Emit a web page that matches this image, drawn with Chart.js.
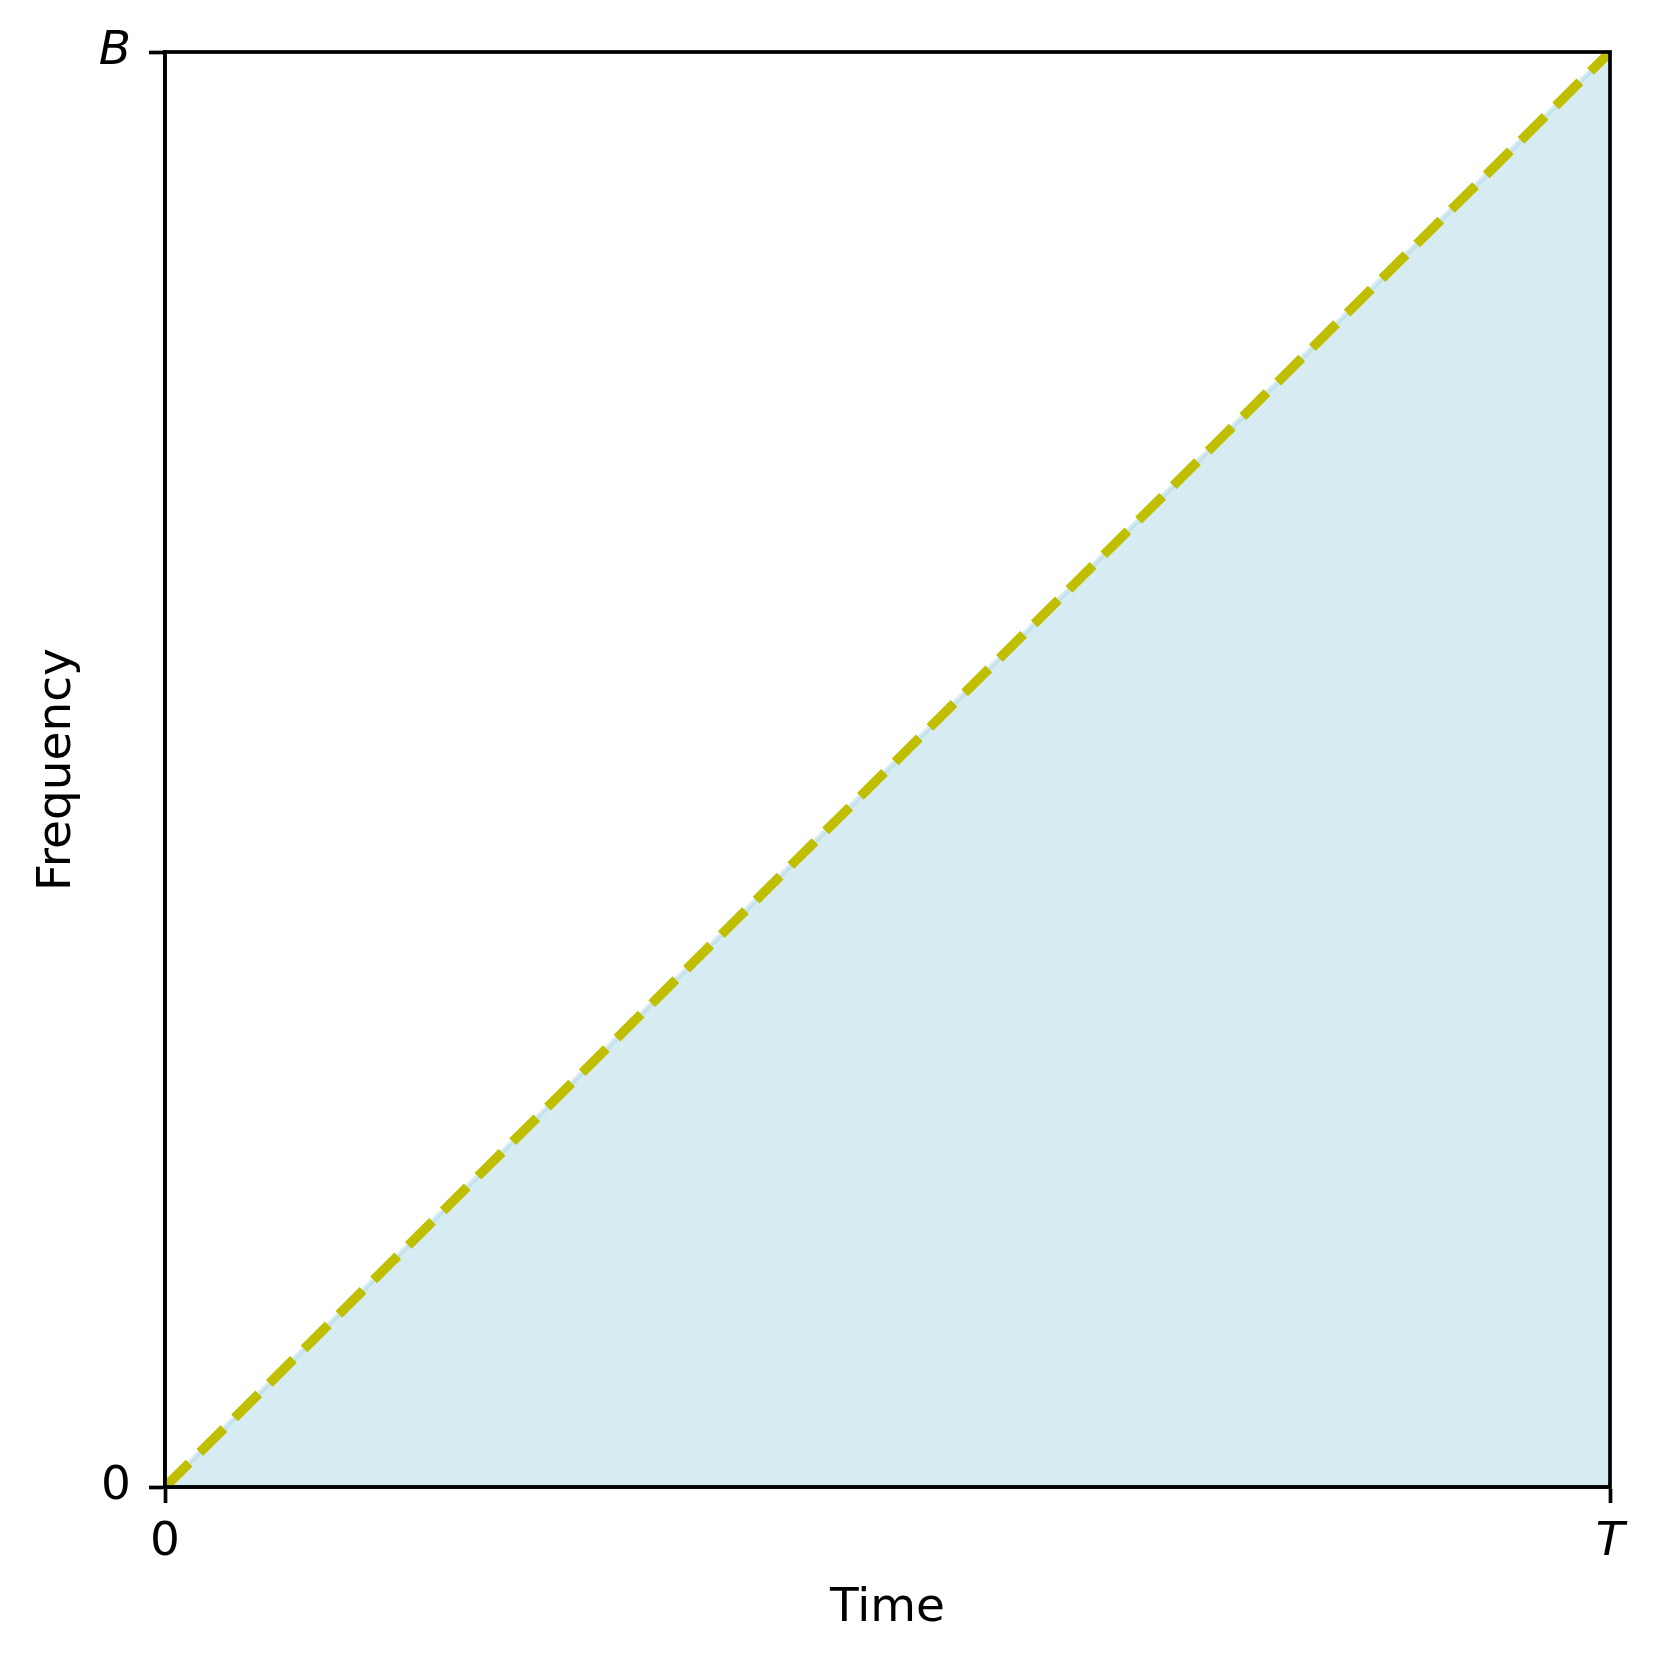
<!DOCTYPE html>
<html>
<head>
<meta charset="utf-8">
<script src="https://cdn.jsdelivr.net/npm/chart.js@4.4.1/dist/chart.umd.min.js"></script>
<style>
  html, body { margin: 0; padding: 0; background: #fff; }
  canvas { display: block; }
</style>
</head>
<body>
<canvas id="chirpChart" width="1661" height="1665" style="width:1661px;height:1665px"></canvas>
<script>
// --- data ---
const timePoints = [0, 1];        // 0 .. T
const freqPoints = [0, 1];        // 0 .. B
const xTickLabels = ['0', 'T'];
const yTickLabels = ['0', 'B'];

const FONT = "'DejaVu Sans', sans-serif";
const AXIS_W = 3.7;

// full box around the plot area (matplotlib style spines)
const frameBox = {
    id: 'frameBox',
    afterDatasetsDraw(chart) {
        const { ctx, chartArea: a } = chart;
        ctx.save();
        ctx.strokeStyle = '#000';
        ctx.lineWidth = AXIS_W;
        ctx.strokeRect(a.left, a.top, a.right - a.left, a.bottom - a.top);
        ctx.restore();
    }
};

const tickFont = (ctx) => ({
    family: FONT,
    size: 47,
    style: ctx.tick && ctx.tick.value === 1 ? 'italic' : 'normal'
});

const points = timePoints.map((t, i) => ({ x: t, y: freqPoints[i] }));

new Chart(document.getElementById('chirpChart'), {
    type: 'line',
    data: {
        datasets: [
            {
                label: 'chirp',
                data: points,
                borderColor: '#bfbf00',
                borderWidth: 9.5,
                borderDash: [34, 15],
                borderCapStyle: 'butt',
                pointRadius: 0,
                fill: false,
                order: 0
            },
            {
                label: 'band',
                data: points,
                borderColor: 'rgba(173, 216, 230, 0.5)',
                backgroundColor: 'rgba(173, 216, 230, 0.5)',
                borderWidth: 5,
                pointRadius: 0,
                fill: 'origin',
                order: 1
            }
        ]
    },
    options: {
        responsive: false,
        animation: false,
        devicePixelRatio: 1,
        layout: { padding: { top: 52, right: 51, left: 0, bottom: 0 } },
        plugins: {
            legend: { display: false },
            tooltip: { enabled: false }
        },
        scales: {
            x: {
                type: 'linear',
                min: 0,
                max: 1,
                afterFit(scale) { scale.height = 178; },
                afterBuildTicks(scale) {
                    scale.ticks = timePoints.map(v => ({ value: v }));
                },
                ticks: {
                    color: '#000',
                    font: tickFont,
                    padding: 12,
                    maxRotation: 0,
                    callback: (v, i) => xTickLabels[i]
                },
                grid: {
                    drawOnChartArea: false,
                    drawTicks: true,
                    tickLength: 16,
                    tickWidth: AXIS_W,
                    tickColor: '#000',
                    color: '#000'
                },
                border: { display: true, color: '#000', width: AXIS_W },
                title: {
                    display: true,
                    text: 'Time',
                    color: '#000',
                    font: { family: FONT, size: 47, lineHeight: 1.2 },
                    padding: { top: 0, bottom: 28 }
                }
            },
            y: {
                type: 'linear',
                min: 0,
                max: 1,
                afterFit(scale) { scale.width = 165; },
                afterBuildTicks(scale) {
                    scale.ticks = freqPoints.map(v => ({ value: v }));
                },
                ticks: {
                    color: '#000',
                    font: tickFont,
                    padding: 18,
                    callback: (v, i) => yTickLabels[i]
                },
                grid: {
                    drawOnChartArea: false,
                    drawTicks: true,
                    tickLength: 16,
                    tickWidth: AXIS_W,
                    tickColor: '#000',
                    color: '#000'
                },
                border: { display: true, color: '#000', width: AXIS_W },
                title: {
                    display: true,
                    text: 'Frequency',
                    color: '#000',
                    font: { family: FONT, size: 47, lineHeight: 1.2 },
                    padding: { top: 30, bottom: 0 }
                }
            }
        }
    },
    plugins: [frameBox]
});
</script>
</body>
</html>
